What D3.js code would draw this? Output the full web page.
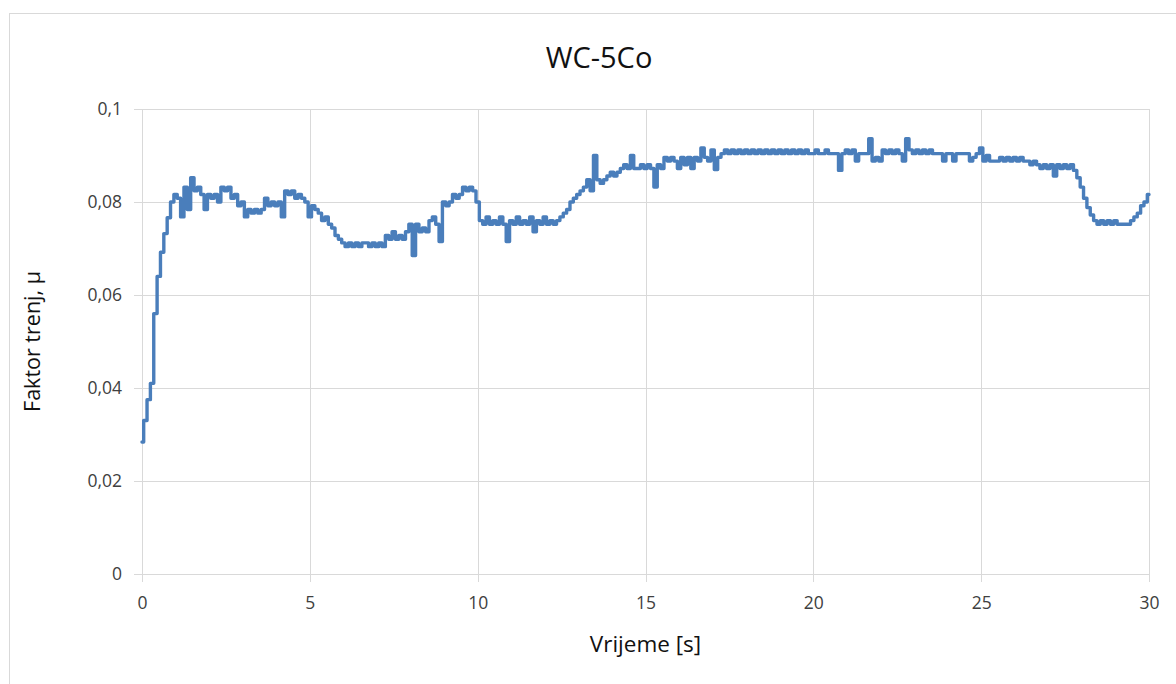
<!DOCTYPE html>
<html>
<head>
<meta charset="utf-8">
<script src="https://cdn.jsdelivr.net/npm/d3@7"></script>
<style>
  html, body { margin: 0; padding: 0; background: #fff; }
  svg { display: block; }
  text { font-family: "Open Sans", "Noto Sans", sans-serif; fill: #404040; }
</style>
</head>
<body>
<svg id="chart" width="1176" height="684"></svg>
<script>
// ---- data ----
const chartTitle = "WC-5Co";
const xTitle = "Vrijeme [s]";
const yTitle = "Faktor trenj, \u03bc";
const xTicks = [0, 5, 10, 15, 20, 25, 30];
const yTicks = [0, 0.02, 0.04, 0.06, 0.08, 0.1];
const yTickLabels = ["0", "0,02", "0,04", "0,06", "0,08", "0,1"];
const sampleStep = 0.1; // seconds between samples
const mu = [
  // 0.0 - 1.0 s
  0.0284, 0.0330, 0.0375, 0.0410, 0.0560, 0.0640, 0.0692, 0.0732, 0.0766, 0.0800,
  // 1.0 - 2.0
  0.0816, 0.0808, 0.0768, 0.0832, 0.0784, 0.0852, 0.0824, 0.0832, 0.0816, 0.0784,
  // 2.0 - 3.0
  0.0816, 0.0808, 0.0816, 0.0800, 0.0832, 0.0824, 0.0832, 0.0808, 0.0816, 0.0792,
  // 3.0 - 4.0
  0.0800, 0.0768, 0.0784, 0.0776, 0.0784, 0.0776, 0.0784, 0.0808, 0.0792, 0.0800,
  // 4.0 - 5.0
  0.0792, 0.0800, 0.0768, 0.0824, 0.0816, 0.0824, 0.0808, 0.0816, 0.0808, 0.0800,
  // 5.0 - 6.0
  0.0768, 0.0792, 0.0784, 0.0776, 0.0760, 0.0768, 0.0752, 0.0744, 0.0728, 0.0720,
  // 6.0 - 7.0
  0.0712, 0.0704, 0.0712, 0.0704, 0.0712, 0.0704, 0.0712, 0.0712, 0.0704, 0.0712,
  // 7.0 - 8.0
  0.0704, 0.0712, 0.0704, 0.0728, 0.0720, 0.0736, 0.0720, 0.0728, 0.0720, 0.0736,
  // 8.0 - 9.0
  0.0752, 0.0685, 0.0752, 0.0736, 0.0744, 0.0736, 0.0760, 0.0768, 0.0752, 0.0715,
  // 9.0 - 10.0
  0.0800, 0.0792, 0.0800, 0.0816, 0.0808, 0.0816, 0.0832, 0.0824, 0.0832, 0.0824,
  // 10.0 - 11.0
  0.0800, 0.0760, 0.0752, 0.0768, 0.0752, 0.0760, 0.0752, 0.0768, 0.0752, 0.0715,
  // 11.0 - 12.0
  0.0760, 0.0752, 0.0768, 0.0752, 0.0760, 0.0752, 0.0768, 0.0736, 0.0760, 0.0752,
  // 12.0 - 13.0
  0.0768, 0.0752, 0.0760, 0.0752, 0.0760, 0.0768, 0.0776, 0.0784, 0.0800, 0.0808,
  // 13.0 - 14.0
  0.0816, 0.0824, 0.0832, 0.0848, 0.0824, 0.0900, 0.0848, 0.0840, 0.0848, 0.0856,
  // 14.0 - 15.0
  0.0864, 0.0856, 0.0864, 0.0872, 0.0880, 0.0872, 0.0900, 0.0872, 0.0872, 0.0880,
  // 15.0 - 16.0
  0.0872, 0.0880, 0.0872, 0.0832, 0.0880, 0.0872, 0.0896, 0.0888, 0.0896, 0.0888,
  // 16.0 - 17.0
  0.0872, 0.0896, 0.0880, 0.0896, 0.0872, 0.0896, 0.0888, 0.0916, 0.0896, 0.0888,
  // 17.0 - 18.0
  0.0912, 0.0870, 0.0896, 0.0904, 0.0912, 0.0904, 0.0912, 0.0904, 0.0912, 0.0904,
  // 18.0 - 19.0
  0.0912, 0.0904, 0.0912, 0.0904, 0.0912, 0.0904, 0.0912, 0.0904, 0.0912, 0.0904,
  // 19.0 - 20.0
  0.0912, 0.0904, 0.0912, 0.0904, 0.0912, 0.0904, 0.0912, 0.0904, 0.0912, 0.0904,
  // 20.0 - 21.0
  0.0904, 0.0912, 0.0904, 0.0904, 0.0912, 0.0904, 0.0904, 0.0904, 0.0868, 0.0904,
  // 21.0 - 22.0
  0.0912, 0.0904, 0.0912, 0.0888, 0.0904, 0.0904, 0.0904, 0.0936, 0.0888, 0.0896,
  // 22.0 - 23.0
  0.0888, 0.0912, 0.0904, 0.0912, 0.0904, 0.0912, 0.0904, 0.0888, 0.0936, 0.0912,
  // 23.0 - 24.0
  0.0904, 0.0912, 0.0904, 0.0912, 0.0904, 0.0912, 0.0904, 0.0904, 0.0904, 0.0888,
  // 24.0 - 25.0
  0.0904, 0.0904, 0.0888, 0.0904, 0.0904, 0.0904, 0.0904, 0.0888, 0.0896, 0.0904,
  // 25.0 - 26.0
  0.0916, 0.0888, 0.0900, 0.0888, 0.0888, 0.0888, 0.0896, 0.0888, 0.0896, 0.0888,
  // 26.0 - 27.0
  0.0896, 0.0888, 0.0896, 0.0888, 0.0888, 0.0880, 0.0888, 0.0880, 0.0872, 0.0880,
  // 27.0 - 28.0
  0.0872, 0.0880, 0.0856, 0.0880, 0.0872, 0.0880, 0.0872, 0.0880, 0.0868, 0.0852,
  // 28.0 - 29.0
  0.0832, 0.0808, 0.0788, 0.0772, 0.0760, 0.0752, 0.0760, 0.0752, 0.0760, 0.0752,
  // 29.0 - 30.0
  0.0760, 0.0752, 0.0752, 0.0752, 0.0752, 0.0760, 0.0768, 0.0776, 0.0792, 0.0800,
  // 30.0
  0.0816
];

// ---- layout ----
const W = 1176, H = 684;
const plot = { left: 142, right: 1149, top: 109, bottom: 574 };
const gridColor = "#d9d9d9";
const lineColor = "#4a7ebb";

const svg = d3.select("#chart");

// outer chart border
svg.append("rect")
  .attr("x", 9.5).attr("y", 13.5)
  .attr("width", 1180).attr("height", 700)
  .attr("fill", "#fff").attr("stroke", gridColor).attr("stroke-width", 1);

const x = d3.scaleLinear().domain([0, 30]).range([plot.left, plot.right]);
const y = d3.scaleLinear().domain([0, 0.1]).range([plot.bottom, plot.top]);

// horizontal gridlines + y axis
const yAxis = d3.axisLeft(y)
  .tickValues(yTicks)
  .tickFormat((d, i) => yTickLabels[i])
  .tickSizeInner(-(plot.right - plot.left))
  .tickSizeOuter(0)
  .tickPadding(20);
const gy = svg.append("g").attr("transform", `translate(${plot.left},0)`).call(yAxis);
gy.select(".domain").attr("stroke", gridColor);
gy.selectAll(".tick line").attr("stroke", gridColor).attr("x1", -8).attr("shape-rendering", "crispEdges");
gy.selectAll(".tick text").attr("font-size", 17.5).attr("fill", "#404040")
  .style("font-family", '"Open Sans", sans-serif');

// vertical gridlines + x axis
const xAxis = d3.axisBottom(x)
  .tickValues(xTicks)
  .tickFormat(d3.format("d"))
  .tickSizeInner(-(plot.bottom - plot.top))
  .tickSizeOuter(0)
  .tickPadding(23);
const gx = svg.append("g").attr("transform", `translate(0,${plot.bottom})`).call(xAxis);
gx.select(".domain").attr("stroke", gridColor);
gx.selectAll(".tick line").attr("stroke", gridColor).attr("y1", 8).attr("shape-rendering", "crispEdges");
gx.selectAll(".tick text").attr("font-size", 17.5).attr("fill", "#404040")
  .style("font-family", '"Open Sans", sans-serif');
gy.raise();
gx.select(".domain").raise();

// data line (sampled, quantised signal drawn as steps)
const series = mu.map((v, i) => ({ t: i * sampleStep, v }));
const line = d3.line().x(d => x(d.t)).y(d => y(d.v)).curve(d3.curveStep);
svg.append("path")
  .datum(series)
  .attr("d", line)
  .attr("fill", "none")
  .attr("stroke", lineColor)
  .attr("stroke-width", 3.4)
  .attr("stroke-linejoin", "round")
  .attr("stroke-linecap", "round");

// titles
svg.append("text")
  .attr("x", 599).attr("y", 68)
  .attr("text-anchor", "middle")
  .attr("font-size", 29)
  .style("fill", "#111")
  .text(chartTitle);

svg.append("text")
  .attr("x", (plot.left + plot.right) / 2).attr("y", 652)
  .attr("text-anchor", "middle")
  .attr("font-size", 22.5)
  .style("fill", "#111")
  .text(xTitle);

svg.append("text")
  .attr("transform", `translate(40,${(plot.top + plot.bottom) / 2}) rotate(-90)`)
  .attr("text-anchor", "middle")
  .attr("font-size", 21.5)
  .style("fill", "#111")
  .text(yTitle);
</script>
</body>
</html>
